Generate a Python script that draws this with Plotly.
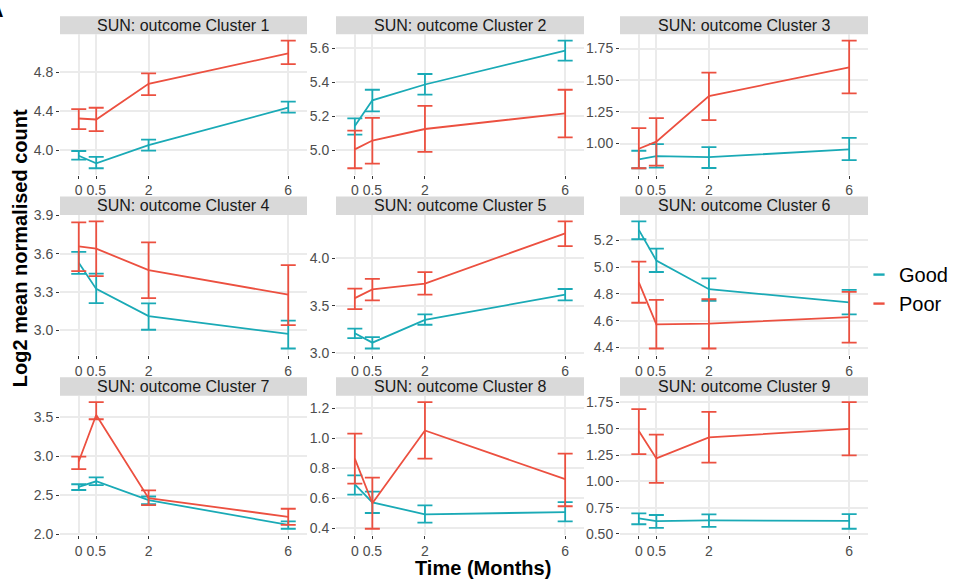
import plotly.graph_objects as go

# ---------------- data ----------------
time_months = [0, 0.5, 2, 6]
time_labels = ["0", "0.5", "2", "6"]
cluster_titles = [f"SUN: outcome Cluster {i}" for i in range(1, 10)]
groups = ["Good", "Poor"]

good_mean = [
    [3.944, 3.867, 4.053, 4.435],
    [5.141, 5.293, 5.386, 5.586],
    [0.874, 0.900, 0.892, 0.954],
    [3.529, 3.325, 3.112, 2.972],
    [3.207, 3.107, 3.348, 3.617],
    [5.277, 5.048, 4.835, 4.736],
    [2.606, 2.677, 2.436, 2.117],
    [0.694, 0.574, 0.494, 0.509],
    [0.647, 0.622, 0.628, 0.625],
]
good_lo = [
    [3.904, 3.817, 3.997, 4.385],
    [5.091, 5.228, 5.326, 5.527],
    [0.805, 0.810, 0.807, 0.869],
    [3.442, 3.214, 3.005, 2.858],
    [3.155, 3.045, 3.297, 3.555],
    [5.207, 4.963, 4.748, 4.647],
    [2.565, 2.627, 2.383, 2.068],
    [0.625, 0.503, 0.439, 0.447],
    [0.592, 0.558, 0.567, 0.549],
]
good_hi = [
    [3.993, 3.934, 4.110, 4.498],
    [5.187, 5.355, 5.448, 5.644],
    [0.943, 0.995, 0.972, 1.044],
    [3.615, 3.445, 3.211, 3.076],
    [3.255, 3.166, 3.407, 3.676],
    [5.340, 5.137, 4.915, 4.830],
    [2.639, 2.727, 2.482, 2.163],
    [0.754, 0.645, 0.554, 0.576],
    [0.696, 0.680, 0.686, 0.689],
]
poor_mean = [
    [4.325, 4.315, 4.680, 4.990],
    [5.004, 5.056, 5.124, 5.216],
    [0.959, 1.015, 1.375, 1.601],
    [3.658, 3.640, 3.473, 3.280],
    [3.579, 3.672, 3.734, 4.266],
    [4.886, 4.573, 4.578, 4.627],
    [2.930, 3.526, 2.461, 2.221],
    [0.865, 0.568, 1.052, 0.728],
    [1.478, 1.218, 1.417, 1.499],
]
poor_lo = [
    [4.216, 4.196, 4.564, 4.880],
    [4.893, 4.920, 4.989, 5.075],
    [0.805, 0.825, 1.185, 1.396],
    [3.465, 3.425, 3.252, 3.041],
    [3.462, 3.555, 3.617, 4.131],
    [4.734, 4.393, 4.393, 4.437],
    [2.834, 3.472, 2.370, 2.117],
    [0.698, 0.398, 0.865, 0.548],
    [1.258, 0.986, 1.178, 1.246],
]
poor_hi = [
    [4.420, 4.435, 4.787, 5.120],
    [5.114, 5.189, 5.260, 5.355],
    [1.121, 1.200, 1.560, 1.812],
    [3.847, 3.854, 3.690, 3.511],
    [3.679, 3.783, 3.855, 4.393],
    [5.041, 4.755, 4.760, 4.815],
    [2.992, 3.692, 2.561, 2.325],
    [1.031, 0.739, 1.241, 0.898],
    [1.686, 1.444, 1.661, 1.753],
]
y_tick_labels = [
    ["4.0", "4.4", "4.8"],
    ["5.0", "5.2", "5.4", "5.6"],
    ["1.00", "1.25", "1.50", "1.75"],
    ["3.0", "3.3", "3.6", "3.9"],
    ["3.0", "3.5", "4.0"],
    ["4.4", "4.6", "4.8", "5.0", "5.2"],
    ["2.0", "2.5", "3.0", "3.5"],
    ["0.4", "0.6", "0.8", "1.0", "1.2"],
    ["0.50", "0.75", "1.00", "1.25", "1.50", "1.75"],
]

# ---------------- style ----------------
W, H = 954, 584
FONT = "Liberation Sans, Arial, Helvetica, sans-serif"
COL = {"Good": "#1AAAB6", "Poor": "#EC5040"}
GRID = "#EBEBEB"
col_px = [(60, 307), (336, 584), (620, 868)]
strip_px = [(8.5, 27), (193.5, 212.5), (379, 398)]
plot_px = [(27, 171), (212.5, 356), (398, 541)]


def px_x(p):
    return p / W


def px_y(p):
    return 1 - p / H


fig = go.Figure()
layout = dict(
    width=W, height=H,
    margin=dict(l=0, r=0, t=0, b=0),
    paper_bgcolor="white", plot_bgcolor="white",
    font=dict(family=FONT, color="#4D4D4D"),
    showlegend=True,
    shapes=[], annotations=[],
)

series = {
    "Good": (good_mean, good_lo, good_hi),
    "Poor": (poor_mean, poor_lo, poor_hi),
}

for i in range(9):
    r, c = divmod(i, 3)
    ax = "" if i == 0 else str(i + 1)
    xa, ya = "x" + ax, "y" + ax
    x0, x1 = col_px[c]
    yt, yb = plot_px[r]
    lo_all = min(good_lo[i] + poor_lo[i])
    hi_all = max(good_hi[i] + poor_hi[i])
    pad = (hi_all - lo_all) * 0.05
    tv = [float(t) for t in y_tick_labels[i]]
    layout["xaxis" + ax] = dict(
        domain=[px_x(x0), px_x(x1)], anchor=ya,
        range=[-0.537, 6.537], tickvals=time_months, ticktext=time_labels,
        showgrid=True, gridcolor=GRID, gridwidth=2, zeroline=False,
        showline=False, ticks="outside", ticklen=3, tickwidth=1.2, tickcolor="#333333",
        tickfont=dict(size=14, color="#4D4D4D", family=FONT), fixedrange=True,
    )
    layout["yaxis" + ax] = dict(
        domain=[px_y(yb), px_y(yt)], anchor=xa,
        range=[lo_all - pad, hi_all + pad], tickvals=tv, ticktext=y_tick_labels[i],
        showgrid=True, gridcolor=GRID, gridwidth=2, zeroline=False,
        showline=False, ticks="outside", ticklen=3, tickwidth=1.2, tickcolor="#333333",
        tickfont=dict(size=14, color="#4D4D4D", family=FONT), fixedrange=True,
    )
    # strip
    s0, s1 = strip_px[r]
    layout["shapes"].append(dict(
        type="rect", xref="paper", yref="paper",
        x0=px_x(x0), x1=px_x(x1), y0=px_y(s1), y1=px_y(s0),
        fillcolor="#D9D9D9", line=dict(width=0), layer="below",
    ))
    layout["annotations"].append(dict(
        xref="paper", yref="paper", x=px_x((x0 + x1) / 2), y=px_y((s0 + s1) / 2),
        text=cluster_titles[i], showarrow=False, xanchor="center", yanchor="middle",
        font=dict(size=16, color="#1A1A1A", family=FONT),
    ))
    for g in groups:
        m, lo, hi = series[g]
        fig.add_trace(go.Scatter(
            x=time_months, y=m[i], mode="lines", xaxis=xa, yaxis=ya,
            line=dict(color=COL[g], width=1.8), showlegend=False, name=g,
            error_y=dict(
                type="data", symmetric=False,
                array=[h - v for h, v in zip(hi[i], m[i])],
                arrayminus=[v - l for l, v in zip(lo[i], m[i])],
                color=COL[g], thickness=1.8, width=7.5,
            ),
        ))

# legend entries (short dash keys)
for g in groups:
    fig.add_trace(go.Scatter(
        x=[None], y=[None], mode="markers", name=g, showlegend=True,
        marker=dict(symbol="line-ew", size=8, color=COL[g],
                    line=dict(color=COL[g], width=2.4)),
    ))

layout["legend"] = dict(
    x=px_x(859), y=px_y(288.5), xanchor="left", yanchor="middle",
    font=dict(size=20, color="#000000", family=FONT),
    bgcolor="rgba(0,0,0,0)", itemwidth=30, tracegroupgap=0,
)

# axis titles
layout["annotations"].append(dict(
    xref="paper", yref="paper", x=px_x(483), y=px_y(574.5),
    text="<b>Time (Months)</b>", showarrow=False, xanchor="center", yanchor="middle",
    font=dict(size=20, color="#000000", family=FONT),
))
layout["annotations"].append(dict(
    xref="paper", yref="paper", x=px_x(20), y=px_y(246.5),
    text="<b>Log2 mean normalised count</b>", showarrow=False, textangle=-90,
    xanchor="center", yanchor="middle",
    font=dict(size=20, color="#000000", family=FONT),
))
# panel letter (partially cut off at the page corner)
layout["annotations"].append(dict(
    xref="paper", yref="paper", x=px_x(-4), y=px_y(2),
    text="<b>A</b>", showarrow=False, xanchor="center", yanchor="middle",
    font=dict(size=20, color="#000000", family=FONT),
))

fig.update_layout(**layout)
fig.write_html("out.html")
